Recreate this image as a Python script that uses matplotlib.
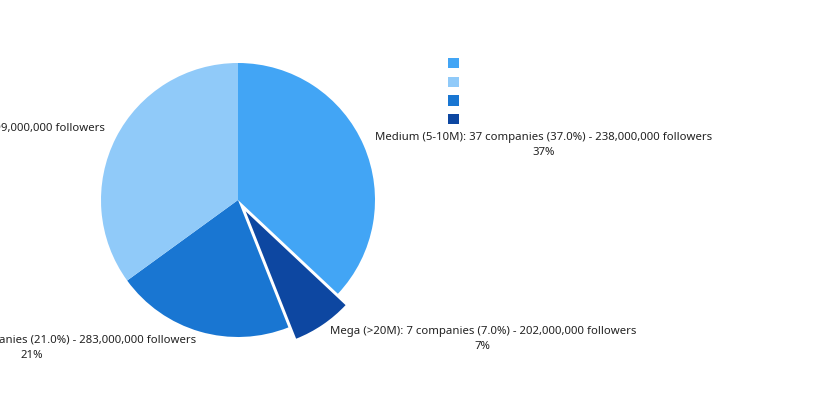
import matplotlib
matplotlib.use("Agg")
import matplotlib.pyplot as plt
from matplotlib.patches import Patch

categories = ["Medium (5-10M)", "Mega (>20M)", "Large (10-20M)", "Small (<5M)"]
companies = [37, 7, 21, 35]
followers = [238000000, 202000000, 283000000, 99000000]
colors = ["#42A5F5", "#0D47A1", "#1976D2", "#90CAF9"]
legend_order = [0, 3, 2, 1]

plt.rcParams['font.family'] = ['Noto Sans', 'DejaVu Sans']

W, H = 830, 400
fig = plt.figure(figsize=(W / 100, H / 100), dpi=100)
R = 137.0
cx, cy = 238.0, 200.0
L = 1.45
side = 2 * L * R
ax = fig.add_axes([(cx - side / 2) / W, (H - cy - side / 2) / H, side / W, side / H])

total = sum(companies)
labels = [f"{c}: {n} companies ({n / total * 100:.1f}%) - {f:,} followers\n{round(n / total * 100)}%"
          for c, n, f in zip(categories, companies, followers)]
explode = [0, 0.1, 0, 0]

wedges, texts = ax.pie(companies, colors=colors, startangle=90, counterclock=False,
                       explode=explode, labels=labels, labeldistance=1.09,
                       wedgeprops=dict(linewidth=0),
                       textprops=dict(fontsize=8.2, color="#222222", multialignment="center",
                                      linespacing=1.5))
for t in texts:
    t.set_va("center")
    x, y = t.get_position()
    t.set_position((x, y - 0.03))
ax.set_xlim(-L, L)
ax.set_ylim(-L, L)
ax.set_aspect("equal")

handles = [Patch(facecolor=colors[i], edgecolor="none") for i in legend_order]
fig.legend(handles, ["" for _ in legend_order], loc="upper left",
           bbox_to_anchor=(448 / W, 1 - 57 / H), frameon=False,
           handlelength=0.78, handleheight=0.78, handletextpad=0.3,
           labelspacing=0.26, borderpad=0, borderaxespad=0, fontsize=10)

fig.savefig("out.png", dpi=100)
